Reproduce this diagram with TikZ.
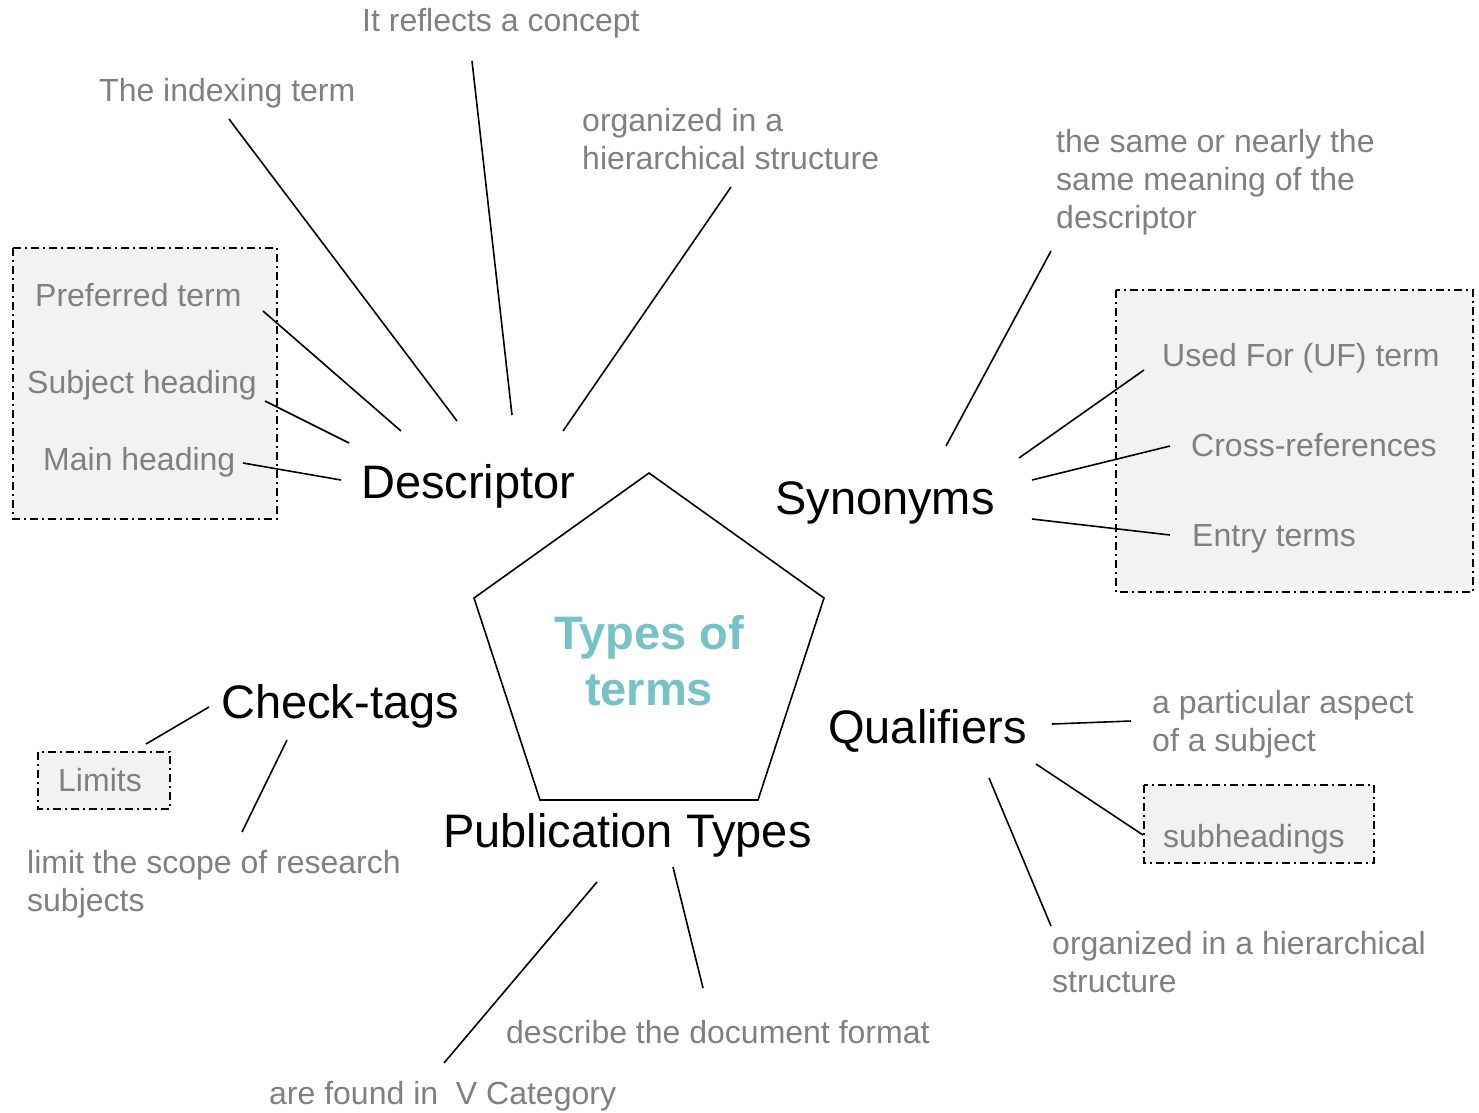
\documentclass[tikz,border=0pt]{standalone}
\usepackage{fontspec}
\setmainfont{Liberation Sans}
\definecolor{lblc}{RGB}{128,128,128}
\definecolor{tealc}{RGB}{117,195,198}
\definecolor{boxfill}{RGB}{242,242,242}
\tikzset{
  lbl/.style={font=\fontsize{32}{38}\selectfont, text=lblc, inner sep=0pt, anchor=base west, align=left},
  mainlbl/.style={font=\fontsize{47}{56}\selectfont, inner sep=0pt, anchor=base west},
  grpbox/.style={draw, line width=1.6pt, fill=boxfill, dash pattern=on 8pt off 4pt on 2pt off 4pt},
  link/.style={line width=1.6pt},
}
\begin{document}
\begin{tikzpicture}[x=1pt,y=-1pt]
\useasboundingbox (0,0) rectangle (1479,1112);
% group boxes
\draw[grpbox] (13,248) rectangle (277,519);
\draw[grpbox] (1116,290) rectangle (1473,592);
\draw[grpbox] (38,752) rectangle (170,809);
\draw[grpbox] (1144,785) rectangle (1374,863);
% pentagon
\coordinate (p1) at (649,473);
\coordinate (p2) at (824,598);
\coordinate (p3) at (758,800);
\coordinate (p4) at (540,800);
\coordinate (p5) at (474,598);
\draw[link] (p1) -- (p2) -- (p3) -- (p4) -- (p5) -- cycle;
% (base of a multi-line node = baseline of its last line)
\node[font=\fontsize{47}{56}\selectfont\bfseries, text=tealc, align=center, inner sep=0pt, anchor=base] (ctr) at (649,705) {Types of\\terms};
% main nodes
\node[mainlbl] (desc) at (361,498) {Descriptor};
\node[mainlbl] (syn) at (775,514) {Synonyms};
\node[mainlbl] (chk) at (221,718) {Check-tags};
\node[mainlbl] (pub) at (443,847) {Publication Types};
\node[mainlbl] (qual) at (828,743) {Qualifiers};
% labels
\node[lbl] (concept) at (362,31) {It reflects a concept};
\node[lbl] (index) at (99,101) {The indexing term};
\node[lbl] (org1) at (582,169) {organized in a\\hierarchical structure};
\node[lbl] (same) at (1056,228) {the same or nearly the\\same meaning of the\\descriptor};
\node[lbl] (pref) at (35,306) {Preferred term};
\node[lbl] (subj) at (27,393) {Subject heading};
\node[lbl] (mainh) at (43,470) {Main heading};
\node[lbl] (uf) at (1162,366) {Used For (UF) term};
\node[lbl] (cross) at (1191,456) {Cross-references};
\node[lbl] (entry) at (1192,546) {Entry terms};
\node[lbl] (limits) at (58,791) {Limits};
\node[lbl] (scope) at (27,911) {limit the scope of research\\subjects};
\node[lbl] (aspect) at (1152,751) {a particular aspect\\of a subject};
\node[lbl] (subh) at (1163,847) {subheadings};
\node[lbl] (org2) at (1052,992) {organized in a hierarchical\\structure};
\node[lbl] (fmt) at (506,1043) {describe the document format};
\node[lbl] (found) at (269,1104) {are found in\ \ V Category};
% connector end points
\coordinate (d1) at (457,421); \coordinate (e1) at (229,119);
\coordinate (d2) at (512,415); \coordinate (e2) at (472,61);
\coordinate (d3) at (563,431); \coordinate (e3) at (731,187);
\coordinate (d4) at (401,431); \coordinate (e4) at (263,311);
\coordinate (d5) at (349,443); \coordinate (e5) at (265,401);
\coordinate (d6) at (341,480); \coordinate (e6) at (243,463);
\coordinate (s1) at (946,446); \coordinate (f1) at (1051,251);
\coordinate (s2) at (1019,458); \coordinate (f2) at (1144,370);
\coordinate (s3) at (1032,480); \coordinate (f3) at (1170,446);
\coordinate (s4) at (1032,519); \coordinate (f4) at (1170,535);
\coordinate (c1) at (209,707); \coordinate (g1) at (146,744);
\coordinate (c2) at (287,740); \coordinate (g2) at (242,832);
\coordinate (q1) at (1052,724); \coordinate (h1) at (1131,721);
\coordinate (q2) at (1036,764); \coordinate (h2) at (1143,835);
\coordinate (q3) at (989,778); \coordinate (h3) at (1051,926);
\coordinate (u1) at (597,882); \coordinate (k1) at (444,1063);
\coordinate (u2) at (673,867); \coordinate (k2) at (703,988);
% connectors
\foreach \a/\b in {d1/e1,d2/e2,d3/e3,d4/e4,d5/e5,d6/e6,s1/f1,s2/f2,s3/f3,s4/f4,c1/g1,c2/g2,q1/h1,q2/h2,q3/h3,u1/k1,u2/k2}
  \draw[link] (\a) -- (\b);
\end{tikzpicture}
\end{document}
